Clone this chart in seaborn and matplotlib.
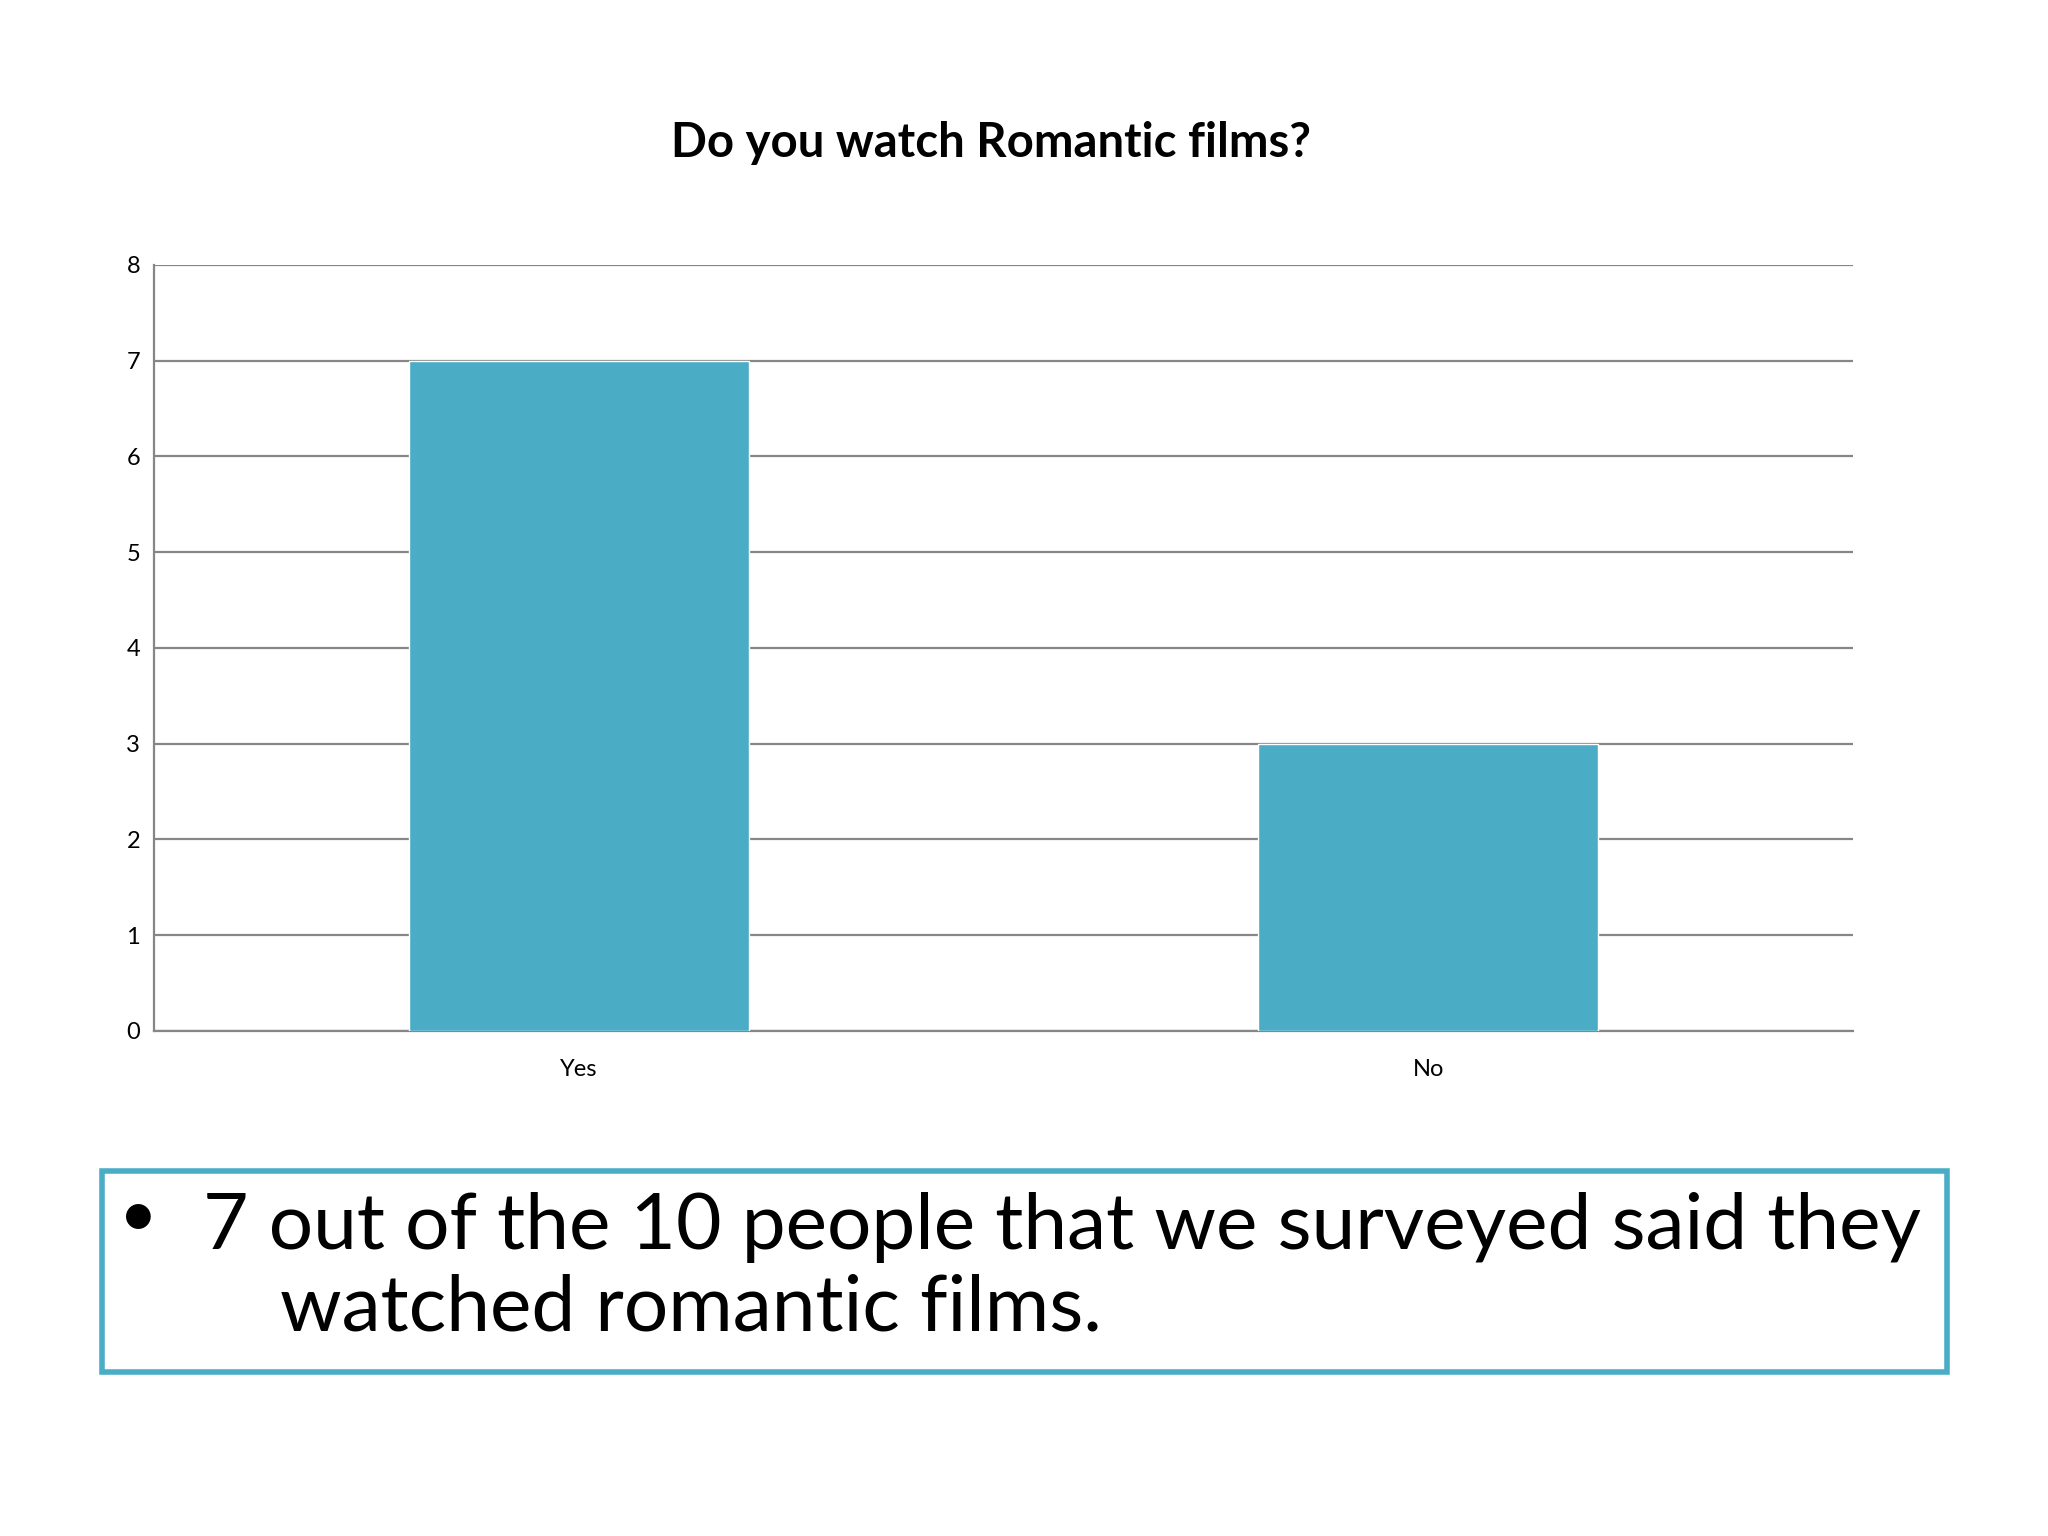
import pandas as pd
import matplotlib
matplotlib.use("Agg")
import matplotlib.pyplot as plt
import seaborn as sns
from matplotlib.patches import Rectangle

# ==================== DATA ====================
answers = ["Yes", "No"]
counts = [7, 3]
y_ticks = [0, 1, 2, 3, 4, 5, 6, 7, 8]

title = "Do you watch Romantic films?"
bullet_line1 = "7 out of the 10 people that we surveyed said they"
bullet_line2 = "watched romantic films."

bar_color = "#4BACC6"
grid_color = "#868686"

df = pd.DataFrame({"answer": answers, "count": counts})

# ==================== STYLE ====================
sns.set_theme(style="white")
plt.rcParams["font.family"] = ["Lato", "DejaVu Sans"]
plt.rcParams["text.color"] = "black"
plt.rcParams["xtick.color"] = "black"
plt.rcParams["ytick.color"] = "black"

fig = plt.figure(figsize=(20.48, 15.36), dpi=100)
ax = fig.add_axes([0.0752, 0.3289, 0.8295, 0.4986])

sns.barplot(data=df, x="answer", y="count", color=bar_color, width=0.4,
            saturation=1, ax=ax, zorder=3)

ax.set_ylim(0, 8)
ax.set_yticks(y_ticks)
ax.set_xlim(-0.5, 1.5)
ax.yaxis.grid(True, color=grid_color, linewidth=1.6, zorder=0)
ax.set_axisbelow(True)
ax.set_xlabel("")
ax.set_ylabel("")
for side in ["top", "right"]:
    ax.spines[side].set_visible(False)
for side in ["left", "bottom"]:
    ax.spines[side].set_color(grid_color)
    ax.spines[side].set_linewidth(1.6)
ax.tick_params(axis="y", length=6, width=1.6, color=grid_color, labelsize=17,
               labelcolor="black", pad=4)
ax.tick_params(axis="x", length=0, labelsize=17, labelcolor="black", pad=20)

fig.text(0.484, 0.907, title, ha="center", va="center", fontsize=34,
         fontweight="bold", color="black")

# ==================== TEXT BOX ====================
box = Rectangle((0.0500, 0.1065), 0.9005, 0.1310, transform=fig.transFigure,
                fill=False, edgecolor=bar_color, linewidth=4)
fig.patches.append(box)
fig.text(0.0675, 0.207, "\u2022", ha="center", va="center", fontsize=48,
         color="black")
fig.text(0.0990, 0.201, bullet_line1, ha="left", va="center", fontsize=56.5,
         color="black")
fig.text(0.1365, 0.148, bullet_line2, ha="left", va="center", fontsize=56.5,
         color="black")

fig.savefig("out.png", dpi=100, facecolor="white")
